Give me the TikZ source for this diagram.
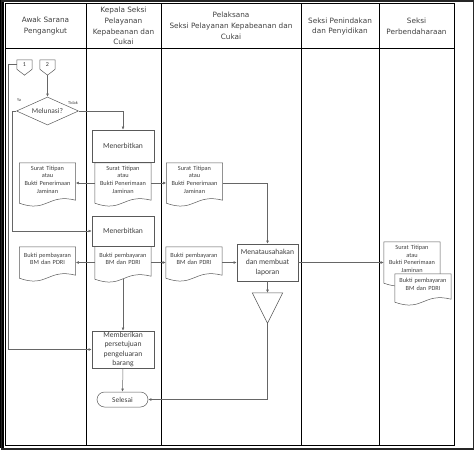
\documentclass[tikz,border=0pt]{standalone}
\usepackage{fontspec}
\setmainfont{Carlito}
\newfontfamily\headfont{DejaVu Sans}
\usetikzlibrary{shapes.geometric,shapes.misc,arrows.meta,calc,backgrounds}

\tikzset{
  lane/.style={draw=black, line width=0.8pt},
  shapeline/.style={draw=black!65, line width=0.5pt},
  head/.style={align=center, text=black!75, font=\headfont\fontsize{7.3}{10.8}\selectfont},
  proc/.style={rectangle, shapeline, fill=white, inner sep=1pt, align=center,
    text=black!75, font=\fontsize{7.6}{9.2}\selectfont},
  docbox/.style={rectangle, draw=none, inner sep=0pt, minimum width=56pt,
    text width=54pt, align=center, text=black!75, font=\fontsize{6.3}{7.6}\selectfont,
    execute at end node={\rule[-7pt]{0pt}{7pt}}},
  offpg/.style={rectangle, draw=none, inner sep=0pt, minimum width=15pt,
    minimum height=9pt, text=black!80, font=\fontsize{6}{6}\selectfont},
  decide/.style={diamond, shapeline, inner sep=0pt, aspect=2.2, minimum width=62pt,
    minimum height=28pt, text=black!75, font=\fontsize{7.4}{8}\selectfont},
  term/.style={rounded rectangle, shapeline, inner sep=0pt, minimum width=51pt,
    minimum height=15pt, text=black!75, font=\fontsize{7.4}{8}\selectfont},
  tiny/.style={inner sep=0pt, text=black!75, font=\fontsize{4.4}{4.4}\selectfont},
  flow/.style={draw=black!60, line width=0.5pt, -{Latex[length=3.2pt,width=2.8pt]}},
}
% document outline with wavy bottom, drawn behind the text
\newcommand{\docline}[1]{%
  \begin{scope}[on background layer]
  \draw[shapeline, fill=white] (#1.south west) -- (#1.north west) -- (#1.north east)
    -- ($(#1.south east)+(0,-3)$)
    .. controls ($(#1.south west)!0.5!(#1.south east)+(0,-10)$) and ($(#1.south west)!0.5!(#1.south east)+(0,10)$) .. (#1.south west) -- cycle;
  \end{scope}}
% off-page connector
\newcommand{\offline}[1]{%
  \draw[shapeline] (#1.north west) -- (#1.north east) -- (#1.south east)
    -- ($(#1.south)+(0,6)$) -- (#1.south west) -- cycle;}

\begin{document}
\begin{tikzpicture}[x=1pt,y=-1pt]
\useasboundingbox (0,0) rectangle (476,452);
% frame
\fill[black] (0,0) rectangle (4,448);
\draw[line width=1.5pt, black!85] (1.5,1.2) rectangle (473.5,449);
% lanes
\draw[lane] (5,3) rectangle (454,445);
\draw[lane] (5,48) -- (454,48);
\foreach \x in {86,161,301,379} \draw[lane] (\x,3) -- (\x,445);
\node[head] (h1) at (45.5,26) {Awak Sarana\\Pengangkut};
\node[head] (h2) at (123.5,26) {Kepala Seksi\\Pelayanan\\Kepabeanan dan\\Cukai};
\node[head] (h3) at (231,26) {Pelaksana\\Seksi Pelayanan Kepabeanan dan\\Cukai};
\node[head] (h4) at (340,26.5) {Seksi Penindakan\\dan Penyidikan};
\node[head] (h5) at (416.5,26.5) {Seksi\\Perbendaharaan};

% start
\node[offpg] (c1) at (24.5,64.5) {1}; \offline{c1}
\node[offpg] (c2) at (47.5,64.5) {2}; \offline{c2}
\node[decide] (dia) at (47.5,111) {Melunasi?};
\node[tiny] (lblya) at (19,100) {Ya};
\node[tiny] (lbltidak) at (73,103) {Tidak};

% first row
\node[proc, minimum width=62pt, minimum height=32pt] (issue1) at (123,146) {Menerbitkan};
\node[docbox, minimum height=40pt] (sta) at (123,183) {Surat Titipan\\atau\\Bukti Penerimaan\\Jaminan}; \docline{sta}
\node[docbox, minimum height=40pt] (stb) at (47.5,183) {Surat Titipan\\atau\\Bukti Penerimaan\\Jaminan}; \docline{stb}
\node[docbox, minimum height=40pt] (stc) at (194.5,183) {Surat Titipan\\atau\\Bukti Penerimaan\\Jaminan}; \docline{stc}

% second row
\node[proc, minimum width=62pt, minimum height=30pt] (issue2) at (123,231) {Menerbitkan};
\node[docbox, minimum height=33pt] (bpa) at (123,262.5) {Bukti pembayaran\\BM dan PDRI}; \docline{bpa}
\node[docbox, minimum height=31pt] (bpb) at (47.5,262.5) {Bukti pembayaran\\BM dan PDRI}; \docline{bpb}
\node[docbox, minimum height=31pt] (bpc) at (194,262.5) {Bukti pembayaran\\BM dan PDRI}; \docline{bpc}
\node[proc, minimum width=61pt, minimum height=37pt, font=\fontsize{7.6}{10}\selectfont] (admin) at (267.5,262.5) {Menatausahakan\\dan membuat\\laporan};
\node[docbox, minimum height=41pt] (stk) at (412,262.5) {Surat Titipan\\atau\\Bukti Penerimaan\\Jaminan}; \docline{stk}
\node[docbox, minimum height=28pt] (bpk) at (423,288) {Bukti pembayaran\\BM dan PDRI}; \docline{bpk}
\node[draw=none, minimum width=30pt, minimum height=30pt, inner sep=0pt] (arsip) at (267.5,308) {};
\draw[shapeline] (arsip.north west) -- (arsip.north east) -- (arsip.south) -- cycle;

% end
\node[proc, minimum width=62pt, minimum height=37pt] (agree) at (123,349.5) {Memberikan\\persetujuan\\pengeluaran\\barang};
\node[term] (done) at (122.5,399.5) {Selesai};

% connectors
\draw[flow] ($(c2.south)+(0,6)$) -- (dia.north);
\draw[flow] (dia.east) -| (issue1.north);
\draw[flow] (dia.west) -- ++(-4.5,0) |- (issue2.west);
\draw[flow] (c1.west) -- ++(-9,0) |- (agree.west);
\draw[flow] (sta.west) -- (stb.east);
\draw[flow] (sta.east) -- (stc.west);
\draw[flow] (stc.east) -| (admin.north);
\draw[flow] (bpa.west) -- (bpb.east);
\draw[flow] (bpa.east) -- (bpc.west);
\draw[flow] (bpc.east) -- (admin.west);
\draw[flow] (admin.east) -- (stk.west);
\draw[flow] (admin.south) -- (arsip.north);
\draw[flow] (arsip.south) |- (done.east);
\draw[flow] (bpa.south) -- (agree.north);
\draw[flow] (agree.south) -- (done.north);
\end{tikzpicture}
\end{document}
